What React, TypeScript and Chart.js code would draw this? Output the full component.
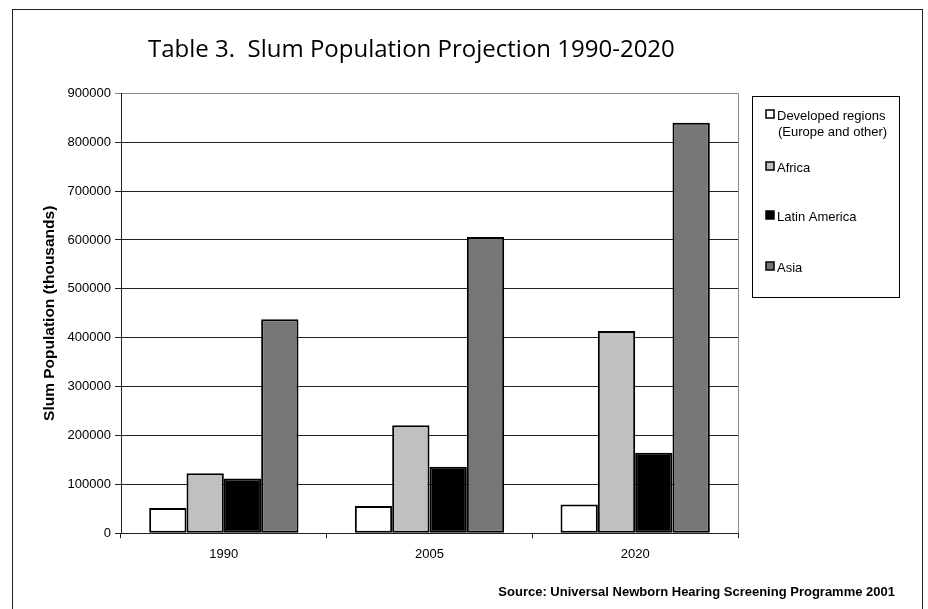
import { useEffect, useRef } from 'react';
import { Chart, registerables } from 'chart.js';

Chart.register(...registerables);

// ---- data ----
const years = ['1990', '2005', '2020'];
const seriesLabels = ['Developed regions\n(Europe and other)', 'Africa', 'Latin America', 'Asia'];
const developed = [52000, 56000, 59000];
const africa = [123000, 221000, 414000];
const latinAmerica = [112000, 136000, 165000];
const asia = [438000, 606000, 840000];
const yMin = 0;
const yMax = 900000;
const yStep = 100000;
const chartTitle = 'Table 3.  Slum Population Projection 1990-2020';
const yTitle = 'Slum Population (thousands)';
const sourceNote = 'Source: Universal Newborn Hearing Screening Programme 2001';

const fills = ['#ffffff', '#c0c0c0', '#000000', '#777777'];
const ARIAL = '"Liberation Sans", Arial, sans-serif';

const decor = {
  id: 'decor',
  beforeDraw(chart: any) {
    const ctx = chart.ctx;
    ctx.save();
    ctx.fillStyle = '#ffffff';
    ctx.fillRect(0, 0, chart.width, chart.height);
    ctx.restore();
  },
  afterDraw(chart: any) {
    const ctx = chart.ctx;
    const a = chart.chartArea;
    ctx.save();
    // plot area right border (grey)
    ctx.strokeStyle = '#888888';
    ctx.lineWidth = 1;
    const rx = Math.round(a.right) + 0.5;
    ctx.beginPath();
    ctx.moveTo(rx, a.top);
    ctx.lineTo(rx, a.bottom);
    ctx.stroke();

    // outer frame
    ctx.strokeStyle = '#222222';
    ctx.lineWidth = 1;
    ctx.strokeRect(12.5, 9.5, 910, 640);

    // title
    ctx.fillStyle = '#000000';
    ctx.font = '24px "Open Sans", "Noto Sans", sans-serif';
    ctx.textAlign = 'left';
    ctx.textBaseline = 'middle';
    ctx.fillText(chartTitle, 148, 50);

    // legend box
    ctx.strokeStyle = '#000000';
    ctx.strokeRect(752.5, 96.5, 147, 201);
    const rowY = [115, 167, 216, 267];
    ctx.font = '13px ' + ARIAL;
    chart.data.datasets.forEach((ds: any, i: number) => {
      const y = rowY[i];
      ctx.fillStyle = ds.backgroundColor;
      ctx.fillRect(766, y - 5, 8, 8);
      ctx.strokeStyle = '#000000';
      ctx.lineWidth = 1.5;
      ctx.strokeRect(766, y - 5, 8, 8);
      ctx.fillStyle = '#000000';
      const lines = String(ds.label).split('\n');
      lines.forEach((ln: string, j: number) => {
        ctx.fillText(ln, 777 + (j > 0 ? 1 : 0), y + 1 + j * 16.5);
      });
    });

    // source note
    ctx.font = 'bold 13px ' + ARIAL;
    ctx.textAlign = 'right';
    ctx.fillStyle = '#000000';
    ctx.fillText(sourceNote, 895, 592);
    ctx.restore();
  },
};

export default function App() {
  const ref = useRef<HTMLCanvasElement>(null);
  useEffect(() => {
    if (!ref.current) return;
    const series = [developed, africa, latinAmerica, asia];
    const chart = new Chart(ref.current, {
      type: 'bar',
      data: {
        labels: years,
        datasets: series.map((vals, i) => ({
          label: seriesLabels[i],
          data: vals,
          backgroundColor: fills[i],
          borderColor: '#000000',
          borderWidth: 2,
          borderSkipped: false,
          categoryPercentage: 0.726,
          barPercentage: 1,
        })),
      },
      options: {
        responsive: false,
        animation: false,
        devicePixelRatio: 1,
        layout: { padding: { left: 0, top: 93.3, right: 190, bottom: 0 } },
        plugins: {
          legend: { display: false },
          title: { display: false },
          tooltip: { enabled: false },
        },
        scales: {
          x: {
            afterFit: (s: any) => { s.height = 75.7; },
            grid: { drawOnChartArea: false, drawTicks: true, tickLength: 5, color: '#222222', offset: true },
            border: { display: true, color: '#222222', width: 1 },
            ticks: { color: '#000000', font: { family: ARIAL, size: 13 }, padding: 8 },
          },
          y: {
            min: yMin,
            max: yMax,
            afterFit: (s: any) => { s.width = 121; },
            grid: {
              color: (c: any) => (c.tick && c.tick.value === yMax ? '#888888' : '#222222'),
              lineWidth: 1,
              tickLength: 6,
              drawTicks: true,
            },
            border: { display: true, color: '#222222', width: 1 },
            ticks: {
              stepSize: yStep,
              color: '#000000',
              font: { family: ARIAL, size: 13 },
              padding: 4,
              callback: (v: any) => String(v),
            },
            title: {
              display: true,
              text: yTitle,
              color: '#000000',
              font: { family: ARIAL, size: 15.5, weight: 'bold' },
              padding: { top: 40.7, bottom: 0 },
            },
          },
        },
      },
      plugins: [decor],
    } as any);
    return () => chart.destroy();
  }, []);
  return (
    <div style={{ position: 'absolute', left: 0, top: 0, width: 928, height: 609, background: '#fff' }}>
      <canvas ref={ref} width={928} height={609} style={{ display: 'block' }} />
    </div>
  );
}
